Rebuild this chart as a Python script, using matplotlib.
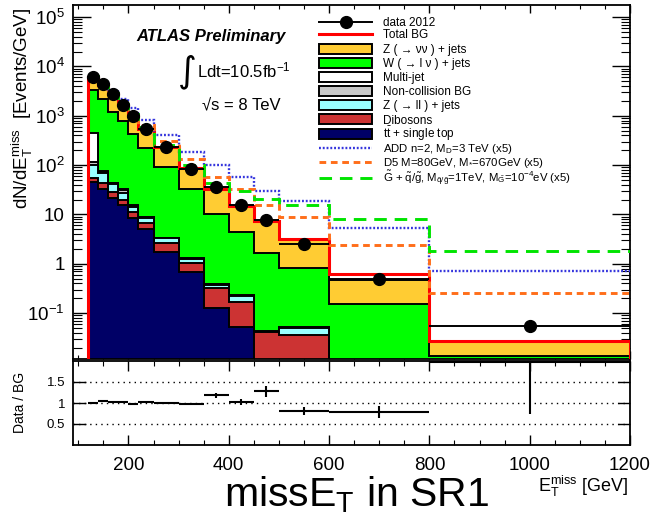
import numpy as np
import matplotlib
matplotlib.use('Agg')
import matplotlib.pyplot as plt
from matplotlib.patches import Rectangle
from matplotlib.lines import Line2D
from matplotlib.ticker import MultipleLocator, LogLocator, NullFormatter, FixedLocator

plt.rcParams['font.family'] = ['Liberation Sans', 'DejaVu Sans']
plt.rcParams['mathtext.fontset'] = 'custom'
plt.rcParams['mathtext.rm'] = 'Liberation Sans'
plt.rcParams['mathtext.it'] = 'Liberation Sans:italic'
plt.rcParams['mathtext.bf'] = 'Liberation Sans:bold'
plt.rcParams['mathtext.sf'] = 'Liberation Sans'

# ---------------- data ----------------
bin_edges = [120, 140, 160, 180, 200, 220, 250, 300, 350, 400, 450, 500, 600, 800, 1200]

ttbar    = [45.1, 32.5, 21.4, 15.6, 8.65, 5.04, 1.75, 0.698, 0.127, 0.0513, 0.008, 0.003, 0.001, 0.0003]
dibosons = [9.2, 10.6, 7.7, 4.2, 2.8, 1.63, 0.94, 0.364, 0.204, 0.117, 0.0327, 0.0336, 0.006, 0.001]
zll      = [46.6, 25.4, 12.6, 7.9, 3.0, 1.74, 0.62, 0.18, 0.045, 0.05, 0.0015, 0.0133, 0.002, 0.0005]
noncoll  = [16.9, 4.0, 1.5, 3.5, 0.7, 0.4, 0.05, 0.03, 0.006, 0.005, 0.0003, 0.002, 0.0005, 0.0001]
multijet = [325, 5.0, 1.1, 1.3, 0.5, 0.25, 0.04, 0.03, 0.006, 0.005, 0.0002, 0.0018, 0.0005, 0.0001]
wjets    = [2884, 2081, 1167, 752, 413, 210.7, 87.2, 31.2, 9.84, 4.16, 1.605, 0.764, 0.145, 0.0115]
znn      = [2773, 2092, 1489, 835, 601, 325, 141.4, 54.5, 22.3, 10.6, 5.75, 2.33, 0.319, 0.0135]

total_bg = [6100, 4250, 2700, 1620, 1030, 545, 232, 87, 32.5, 15, 7.4, 3.15, 0.63, 0.027]
data2012 = [6000, 4300, 2750, 1650, 1000, 550, 235, 85, 36, 15.5, 7.6, 2.55, 0.49, 0.054]

sig_add  = [6700, 5000, 3300, 2150, 1420, 820, 408, 187, 101, 57, 30.5, 19.1, 5.4, 0.73]
sig_d5   = [6300, 4450, 2900, 1780, 1150, 640, 305, 131, 57, 32.5, 15.6, 8.8, 2.39, 0.255]
sig_gmsb = [6250, 4400, 2850, 1720, 1100, 600, 250, 101, 44, 30.5, 20.4, 15.6, 8.0, 1.86]

ratio     = [1.00, 1.04, 1.03, 1.02, 0.97, 1.02, 1.01, 0.97, 1.18, 1.02, 1.28, 0.81, 0.79, 1.97]
ratio_err = [0.01, 0.01, 0.01, 0.01, 0.015, 0.015, 0.015, 0.02, 0.06, 0.07, 0.13, 0.10, 0.14, 1.23]

ytick_vals   = [0.1, 1, 10, 100, 1000, 10000, 100000]
ytick_labels = ['10$^{-1}$', '1', '10', '10$^{2}$', '10$^{3}$', '10$^{4}$', '10$^{5}$']
rtick_vals   = [0.5, 1, 1.5]
rtick_labels = ['0.5', '1', '1.5']
xtick_vals   = [200, 400, 600, 800, 1000, 1200]

leg_labels = ['data 2012', 'Total BG',
              'Z ( → νν ) + jets', 'W ( → l ν ) + jets', 'Multi-jet', 'Non-collision BG',
              'Z ( → ll ) + jets', 'Dibosons', r'$\mathrm{t\bar{t}}$ + single top',
              r'ADD n=2, M$_\mathrm{D}$=3 TeV (x5)',
              r'D5 M=80GeV, M$_{*}$=670GeV (x5)',
              r'$\tilde{\mathrm{G}}$ + $\tilde{\mathrm{q}}/\tilde{\mathrm{g}}$, M$_{\tilde{\mathrm{q}}/\tilde{\mathrm{g}}}$=1TeV, M$_{\tilde{\mathrm{G}}}$=10$^{-4}$eV (x5)']

# ---------------- style ----------------
stack_comps  = [ttbar, dibosons, zll, noncoll, multijet, wjets, znn]
stack_colors = ['#000066', '#CC3333', '#99FFFF', '#C8C8C8', '#FFFFFF', '#00FF00', '#FFCC33']
c_add, c_d5, c_gmsb = '#3535DD', '#FF6E1A', '#00E400'
ls_add = (0, (0.8, 0.8))
ls_d5 = (0, (2.3, 1.6))
ls_gmsb = (0, (4.3, 2.7))

W, H = 652, 516
fig = plt.figure(figsize=(W / 100, H / 100), dpi=100)


def rect(x0, y0, x1, y1):
    return [x0 / W, 1 - y1 / H, (x1 - x0) / W, (y1 - y0) / H]


ax = fig.add_axes(rect(73.3, 5, 630, 359))
rax = fig.add_axes(rect(73.3, 361, 630, 445))

edges = np.array(bin_edges, dtype=float)
centers = 0.5 * (edges[1:] + edges[:-1])
half = 0.5 * (edges[1:] - edges[:-1])
cum = np.cumsum(np.array(stack_comps, dtype=float), axis=0)

for i in range(len(stack_comps) - 1, -1, -1):
    ax.stairs(cum[i], edges, baseline=1e-7, fill=True, facecolor=stack_colors[i],
              edgecolor='black', linewidth=1.4, zorder=2)

ax.stairs(total_bg, edges, baseline=1e-7, fill=False, color='#FF0000', linewidth=2.2, zorder=3)
ax.stairs(sig_add, edges, baseline=None, color=c_add, linewidth=1.7, linestyle=ls_add, zorder=4)
ax.stairs(sig_d5, edges, baseline=None, color=c_d5, linewidth=2.1, linestyle=ls_d5, zorder=4)
ax.stairs(sig_gmsb, edges, baseline=None, color=c_gmsb, linewidth=2.1, linestyle=ls_gmsb, zorder=4)

d = np.array(data2012)
widths = 2 * half
yerr = np.sqrt(d * widths) / widths
ax.errorbar(centers, d, xerr=half, yerr=yerr, fmt='o', color='black', ms=8.5,
            elinewidth=1.4, capsize=0, zorder=5)

ax.set_yscale('log')
ax.set_xlim(90, 1200)
ax.set_ylim(0.0118, 1.75e5)
ax.yaxis.set_major_locator(FixedLocator(ytick_vals))
ax.set_yticklabels(ytick_labels)
ax.yaxis.set_minor_locator(LogLocator(base=10, subs=np.arange(2, 10)))
ax.yaxis.set_minor_formatter(NullFormatter())
ax.xaxis.set_major_locator(MultipleLocator(200))
ax.xaxis.set_minor_locator(MultipleLocator(50))
ax.tick_params(axis='y', which='major', direction='in', length=13, width=1, left=True, right=True,
               labelsize=13.5, pad=6)
ax.tick_params(axis='y', which='minor', direction='in', length=6.5, width=0.8, left=True, right=True)
ax.tick_params(axis='x', which='major', direction='in', length=6, width=1, top=True, bottom=True,
               labelbottom=False)
ax.tick_params(axis='x', which='minor', direction='in', length=3, width=0.8, top=True, bottom=True)
for s in ax.spines.values():
    s.set_linewidth(1.3)

# ratio panel
for v in rtick_vals:
    rax.axhline(v, color='black', linestyle=(0, (1, 3)), linewidth=1.0, zorder=1)
rax.errorbar(centers, ratio, xerr=half, yerr=ratio_err, fmt='none', color='black',
             elinewidth=1.5, capsize=0, zorder=3)
rax.set_xlim(90, 1200)
rax.set_ylim(0, 2)
rax.set_yticks(rtick_vals)
rax.set_yticklabels(rtick_labels)
rax.set_xticks(xtick_vals)
rax.set_xticklabels([str(v) for v in xtick_vals])
rax.xaxis.set_minor_locator(MultipleLocator(50))
rax.tick_params(axis='y', which='major', direction='in', length=9, width=1, left=True, right=True,
                labelsize=9.5, pad=6)
rax.tick_params(axis='x', which='major', direction='in', length=7, width=1, top=True, bottom=True,
                labelsize=13.5, pad=8.5)
rax.tick_params(axis='x', which='minor', direction='in', length=3.5, width=0.8, top=True, bottom=True)
for s in rax.spines.values():
    s.set_linewidth(1.3)

# overlay in pixel coordinates for texts and legend
ov = fig.add_axes([0, 0, 1, 1], zorder=10)
ov.set_xlim(0, W)
ov.set_ylim(H, 0)
ov.axis('off')

ov.text(628, 486, r'E$_\mathrm{T}^\mathrm{miss}$ [GeV]', ha='right', va='center', fontsize=13)
ov.text(357, 506, r'missE$_\mathrm{T}$ in SR1', ha='center', va='baseline', fontsize=29.5)
ov.text(22, 8, r'dN/dE$_\mathrm{T}^\mathrm{miss}$  [Events/GeV]', rotation=90, ha='center', va='top',
        fontsize=13.5)
ov.text(20, 402, 'Data / BG', rotation=90, ha='center', va='center', fontsize=10)
ov.text(211, 37, 'ATLAS Preliminary', ha='center', va='center', fontsize=12,
        fontweight='bold', fontstyle='italic')
ov.text(187, 72, '∫', ha='center', va='center', fontsize=26, family=['DejaVu Sans'])
ov.text(197, 77, r'Ldt=10.5fb$^{-1}$', ha='left', va='baseline', fontsize=12)
ov.text(202, 109, '√s = 8 TeV', ha='left', va='baseline', fontsize=12)

rows = [21.7, 34.3, 49, 62.7, 77, 91, 105.3, 119.3, 133.8, 147.5, 161.5, 177.5]
sx0, sx1, tx = 319, 372, 383
for k, lab in enumerate(leg_labels):
    y = rows[k]
    if k == 0:
        ov.add_line(Line2D([sx0, sx1], [y, y], color='black', lw=1.4))
        ov.plot([(sx0 + sx1) / 2], [y], 'o', color='black', ms=8.5)
    elif k == 1:
        ov.add_line(Line2D([sx0, sx1], [y, y], color='#FF0000', lw=2.2))
    elif 2 <= k <= 8:
        col = stack_colors[8 - k]
        ov.add_patch(Rectangle((sx0, y - 5), sx1 - sx0, 10, facecolor=col, edgecolor='black', lw=1.4))
    elif k == 9:
        ov.add_line(Line2D([sx0, sx1], [y, y], color=c_add, lw=1.7, linestyle=ls_add))
    elif k == 10:
        ov.add_line(Line2D([sx0, sx1], [y, y], color=c_d5, lw=2.1, linestyle=ls_d5))
    else:
        ov.add_line(Line2D([sx0, sx1], [y, y], color=c_gmsb, lw=2.1, linestyle=ls_gmsb))
    fs = 8.5 if k < 9 else 8.2
    ov.text(tx, y + 4.2, lab, ha='left', va='baseline', fontsize=fs)

fig.savefig('out.png', dpi=100)
